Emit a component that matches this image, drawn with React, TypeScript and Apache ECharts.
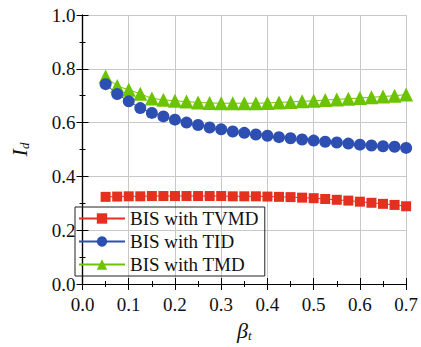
import React, { useEffect, useRef } from "react";
import * as echarts from "echarts";

const betaT = [0.05, 0.075, 0.1, 0.125, 0.15, 0.175, 0.2, 0.225, 0.25, 0.275, 0.3, 0.325, 0.35, 0.375, 0.4, 0.425, 0.45, 0.475, 0.5, 0.525, 0.55, 0.575, 0.6, 0.625, 0.65, 0.675, 0.7];
const tvmd = [0.324, 0.325, 0.326, 0.326, 0.327, 0.327, 0.327, 0.327, 0.327, 0.327, 0.327, 0.326, 0.326, 0.326, 0.325, 0.324, 0.323, 0.321, 0.319, 0.316, 0.313, 0.310, 0.306, 0.302, 0.298, 0.294, 0.289];
const tid = [0.743, 0.706, 0.679, 0.654, 0.636, 0.623, 0.611, 0.600, 0.591, 0.582, 0.575, 0.567, 0.562, 0.556, 0.551, 0.546, 0.542, 0.537, 0.533, 0.529, 0.526, 0.522, 0.518, 0.515, 0.512, 0.510, 0.506];
const tmd = [0.771, 0.736, 0.722, 0.707, 0.690, 0.685, 0.681, 0.678, 0.675, 0.673, 0.672, 0.672, 0.672, 0.672, 0.673, 0.675, 0.677, 0.679, 0.681, 0.684, 0.686, 0.689, 0.691, 0.694, 0.697, 0.700, 0.704];
const seriesNames = ["BIS with TVMD", "BIS with TID", "BIS with TMD"];

const FONT = "Liberation Serif";

export default function App() {
  const ref = useRef<HTMLDivElement>(null);
  useEffect(() => {
    const chart = echarts.init(ref.current!, null, { renderer: "svg" });
    const pair = (ys: number[]) => betaT.map((x, i) => [x, ys[i]]);
    const axisCommon = {
      axisLine: { show: true, lineStyle: { color: "#000", width: 1.2 } },
      axisTick: { show: true, inside: true, length: 6, lineStyle: { color: "#000", width: 1 } },
      minorTick: { show: true, splitNumber: 2, length: 3, lineStyle: { color: "#000", width: 1 } },
    };
    chart.setOption({
      animation: false,
      textStyle: { fontFamily: FONT },
      grid: { left: 70, right: 13, top: 15, bottom: 60 },
      legend: {
        orient: "vertical",
        left: 75,
        top: 207,
        data: seriesNames,
        borderColor: "#222",
        borderWidth: 1,
        borderRadius: 0,
        padding: [2, 6, 2, 3],
        itemWidth: 46,
        itemHeight: 13,
        itemGap: 4,
        textStyle: { fontFamily: FONT, fontSize: 19, color: "#111" },
      },
      xAxis: [
        {
          type: "value",
          min: 0,
          max: 0.7,
          interval: 0.1,
          ...axisCommon,
          axisLabel: { fontFamily: FONT, fontSize: 19, color: "#111", margin: 11, formatter: (v: number) => v.toFixed(1) },
          splitLine: { show: true, lineStyle: { color: "#c8c8c8", width: 1 } },
          name: "{b|β}{s|t}",
          nameLocation: "middle",
          nameGap: 35,
          nameTextStyle: {
            rich: {
              b: { fontFamily: FONT, fontStyle: "italic", fontSize: 22, color: "#111" },
              s: { fontFamily: FONT, fontStyle: "italic", fontSize: 13, color: "#111", padding: [10, 0, 0, 0] },
            },
          },
        },
        {
          type: "value",
          position: "top",
          min: 0,
          max: 0.7,
          interval: 0.1,
          ...axisCommon,
          axisLabel: { show: false },
          splitLine: { show: false },
        },
      ],
      yAxis: [
        {
          type: "value",
          min: 0,
          max: 1,
          interval: 0.2,
          ...axisCommon,
          axisLabel: { fontFamily: FONT, fontSize: 19, color: "#111", margin: 7, formatter: (v: number) => v.toFixed(1) },
          splitLine: { show: true, lineStyle: { color: "#c8c8c8", width: 1 } },
          name: "{i|I}{s|d}",
          nameLocation: "middle",
          nameGap: 52,
          nameRotate: 90,
          nameTextStyle: {
            rich: {
              i: { fontFamily: FONT, fontStyle: "italic", fontSize: 22, color: "#111" },
              s: { fontFamily: FONT, fontStyle: "italic", fontSize: 13, color: "#111", padding: [10, 0, 0, 0] },
            },
          },
        },
        {
          type: "value",
          position: "right",
          min: 0,
          max: 1,
          interval: 0.2,
          ...axisCommon,
          axisLabel: { show: false },
          splitLine: { show: false },
        },
      ],
      series: [
        {
          name: seriesNames[0],
          type: "line",
          data: pair(tvmd),
          symbol: "rect",
          symbolSize: 10,
          itemStyle: { color: "#e3301f" },
          lineStyle: { color: "#e3301f", width: 1 },
          z: 3,
        },
        {
          name: seriesNames[1],
          type: "line",
          data: pair(tid),
          symbol: "circle",
          symbolSize: 12,
          itemStyle: { color: "#2d4fb2" },
          lineStyle: { color: "#2d4fb2", width: 1 },
          z: 4,
        },
        {
          name: seriesNames[2],
          type: "line",
          data: pair(tmd),
          symbol: "triangle",
          symbolSize: 14,
          itemStyle: { color: "#6cc300" },
          lineStyle: { color: "#6cc300", width: 1 },
          z: 2,
        },
      ],
    });
    return () => chart.dispose();
  }, []);
  return <div ref={ref} style={{ width: 421, height: 347, position: "absolute", left: 0, top: 0, background: "#fff" }} />;
}
